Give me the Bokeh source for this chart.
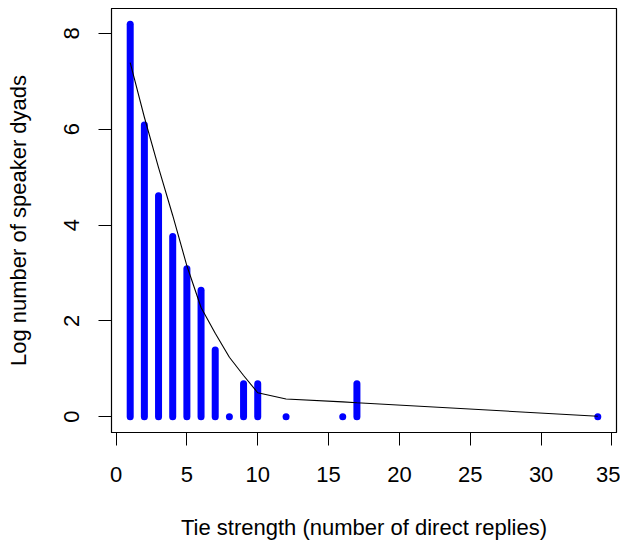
from bokeh.plotting import figure
from bokeh.models import Range1d, FixedTicker, ColumnDataSource
from bokeh.embed import file_html
from bokeh.resources import INLINE

tie_strength = [1, 2, 3, 4, 5, 6, 7, 8, 9, 10, 12, 16, 17, 34]
log_dyads = [8.19, 6.09, 4.61, 3.76, 3.09, 2.64, 1.39, 0.0, 0.69, 0.69, 0.0, 0.0, 0.69, 0.0]
fitted = [7.39, 6.25, 5.20, 4.20, 3.15, 2.28, 1.74, 1.24, 0.86, 0.50, 0.37, 0.31, 0.29, 0.01]
x_ticks = [0, 5, 10, 15, 20, 25, 30, 35]
y_ticks = [0, 2, 4, 6, 8]

FONT = "Liberation Sans"

src = ColumnDataSource(dict(
    x=tie_strength,
    y=log_dyads,
    base=[0.0] * len(tie_strength),
    fit=fitted,
))

p = figure(
    frame_width=505, frame_height=424,
    min_border_left=111, min_border_right=4,
    min_border_top=8, min_border_bottom=102,
    x_range=Range1d(-0.32, 35.32), y_range=Range1d(-0.33, 8.52),
    output_backend="svg", toolbar_location=None,
    background_fill_color="white", border_fill_color="white",
)

p.segment(x0="x", y0="base", x1="x", y1="y", source=src,
          line_color="#0000FF", line_width=7, line_cap="round")
p.line(x="x", y="fit", source=src, line_color="black", line_width=1.1)

p.xgrid.visible = False
p.ygrid.visible = False
p.outline_line_color = "black"
p.outline_line_width = 1.2
p.outline_line_alpha = 1

for ax in (p.xaxis[0], p.yaxis[0]):
    ax.axis_line_color = "black"
    ax.major_tick_line_color = "black"
    ax.major_tick_out = 13
    ax.major_tick_in = 0
    ax.minor_tick_line_color = None
    ax.major_label_text_font = FONT
    ax.major_label_text_font_size = "22px"
    ax.major_label_text_color = "black"
    ax.axis_label_text_font = FONT
    ax.axis_label_text_font_size = "22px"
    ax.axis_label_text_font_style = "normal"
    ax.axis_label_text_color = "black"

p.xaxis.ticker = FixedTicker(ticks=x_ticks)
p.yaxis.ticker = FixedTicker(ticks=y_ticks)
p.xaxis.axis_label = "Tie strength (number of direct replies)"
p.yaxis.axis_label = "Log number of speaker dyads"
p.xaxis.major_label_standoff = 21
p.xaxis.axis_label_standoff = 30
p.yaxis.major_label_orientation = "vertical"
p.yaxis.major_label_standoff = 19
p.yaxis.axis_label_standoff = 31

open("out.html", "w").write(file_html(p, INLINE))
